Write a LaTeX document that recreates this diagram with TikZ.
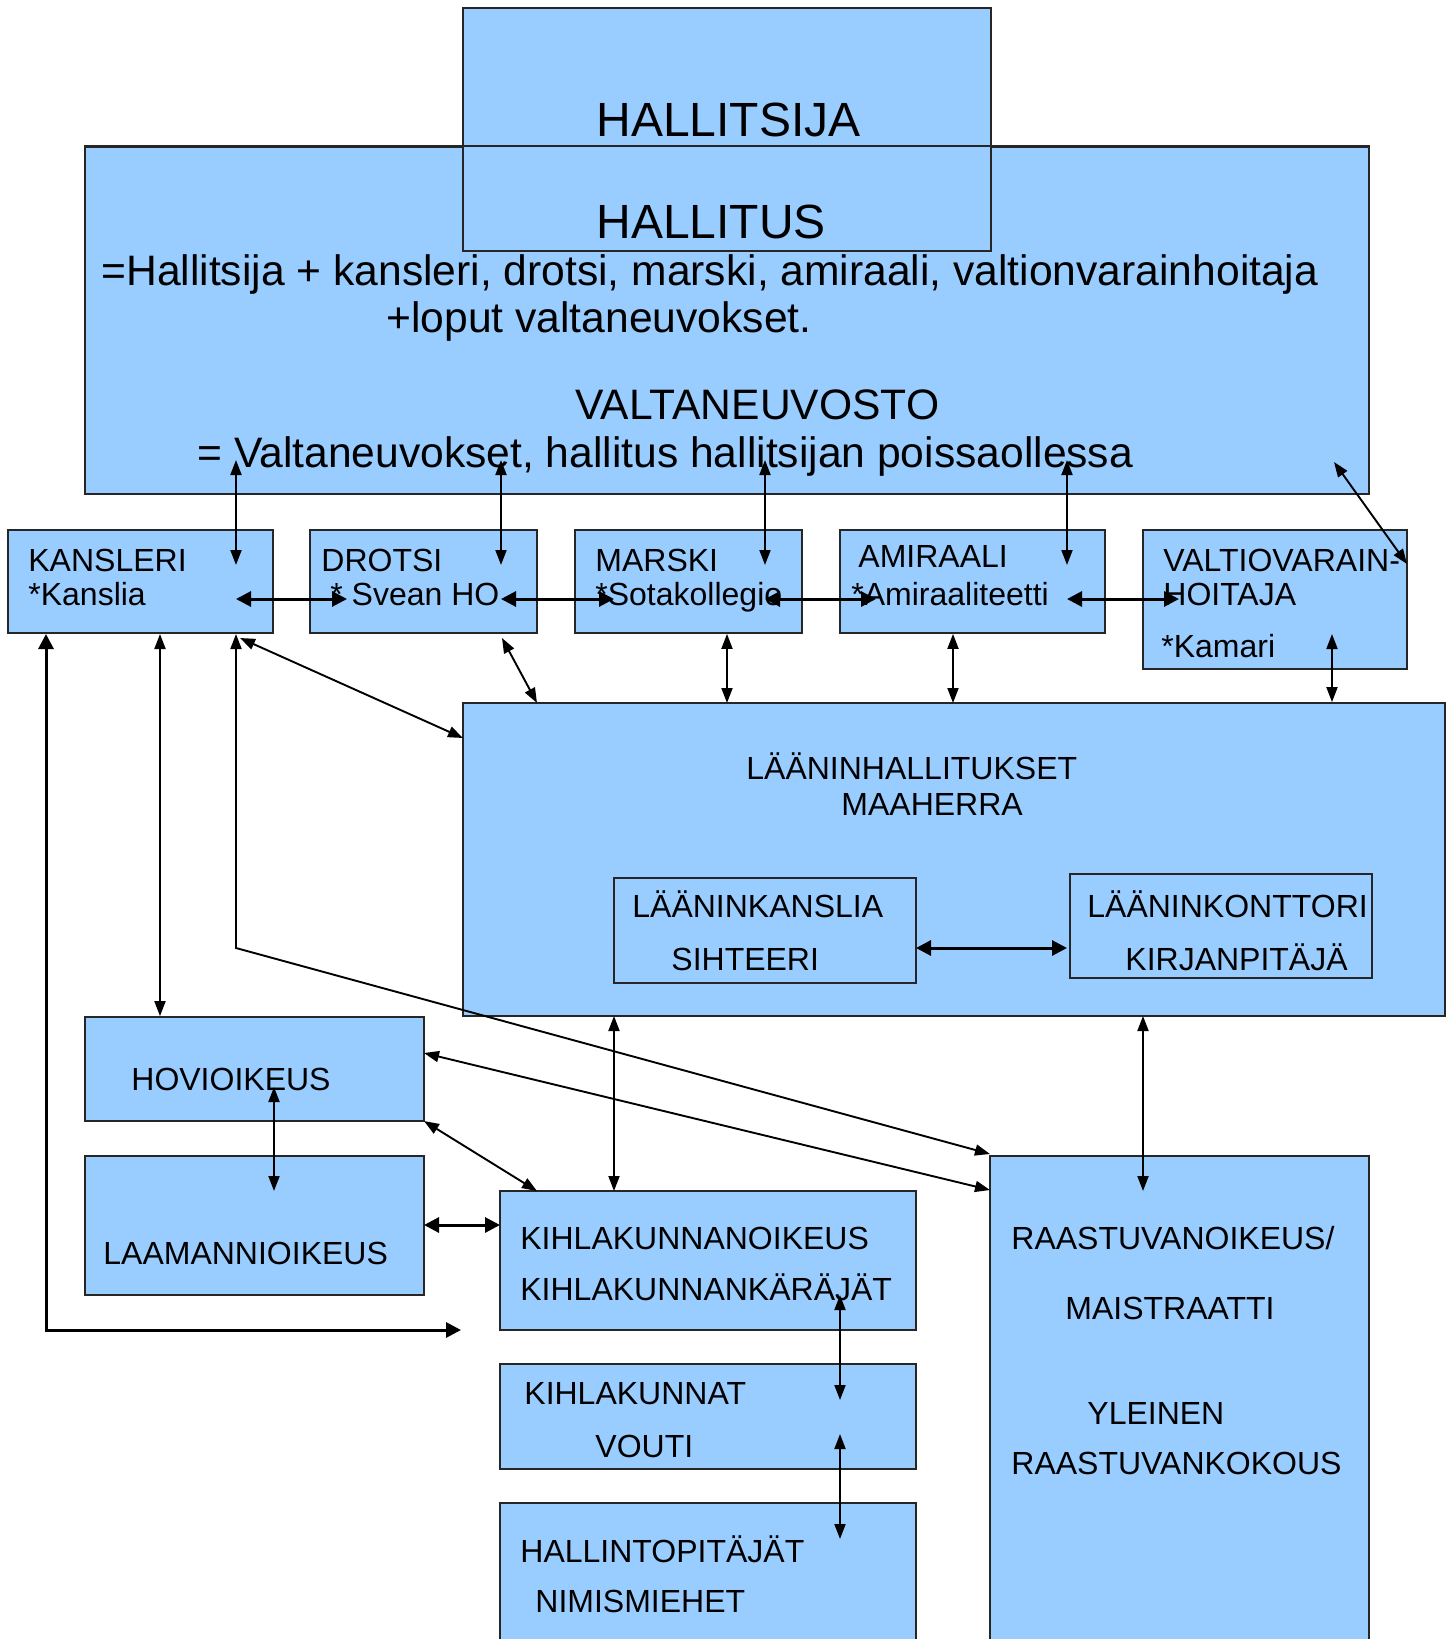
\documentclass[tikz,border=0pt]{standalone}
\usepackage{fontspec}
\setmainfont{Liberation Sans}
\usetikzlibrary{arrows.meta,fit}
\definecolor{boxblue}{HTML}{99CCFF}
\tikzset{
  box/.style={draw=black!85,fill=boxblue,line width=0.9pt,inner sep=0pt},
  lbl/.style={anchor=base west,inner sep=0pt,font=\fontsize{16}{19}\selectfont},
  mid/.style={anchor=base west,inner sep=0pt,font=\fontsize{21.3}{25}\selectfont},
  big/.style={anchor=base west,inner sep=0pt,font=\fontsize{24}{28}\selectfont},
  link/.style={{Triangle[length=7.5pt,width=5.5pt]}-{Triangle[length=7.5pt,width=5.5pt]},line width=0.95pt},
  blink/.style={{Triangle[length=7.5pt,width=7.5pt]}-{Triangle[length=7.5pt,width=7.5pt]},line width=1.5pt},
}
\begin{document}
\begin{tikzpicture}[x=0.5pt,y=-0.5pt]
\useasboundingbox (0,0) rectangle (1454,1639);
\clip (0,0) rectangle (1454,1639);
%
\node[box,fit={(85,147)(1369,494)}] (hallitus) {};
\node[box,fit={(463,8)(991,251)}] (hallitsija) {};
\draw[black!85,line width=0.9pt] (hallitus.north west) -- (hallitus.north east);
\node[big] (t-hallitsija) at (596,136) {HALLITSIJA};
\node[big] (t-hallitus) at (596,238) {HALLITUS};
\node[mid] (t-jasenet) at (101,285) {=Hallitsija + kansleri, drotsi, marski, amiraali, valtionvarainhoitaja};
\node[mid] (t-loput) at (386,332) {+loput valtaneuvokset.};
\node[mid] (t-valtaneuvosto) at (575,419) {VALTANEUVOSTO};
\node[mid] (t-poissa) at (197,467) {= Valtaneuvokset, hallitus hallitsijan poissaollessa};
%
\node[box,fit={(8,530)(273,633)}] (kansleri) {};
\node[box,fit={(310,530)(537,633)}] (drotsi) {};
\node[box,fit={(575,530)(802,633)}] (marski) {};
\node[box,fit={(840,530)(1105,633)}] (amiraali) {};
\node[box,fit={(1143,530)(1407,669)}] (valtio) {};
\node[lbl] (t-kansleri) at (28,571) {KANSLERI};
\node[lbl] (t-kanslia) at (28,605) {*Kanslia};
\node[lbl] (t-drotsi) at (321,571) {DROTSI};
\node[lbl] (t-svea) at (330,605) {* Svean HO};
\node[lbl] (t-marski) at (595,571) {MARSKI};
\node[lbl] (t-sota) at (595,605) {*Sotakollegio};
\node[lbl] (t-amiraali) at (858,567) {AMIRAALI};
\node[lbl] (t-amiraaliteetti) at (851,605) {*Amiraaliteetti};
\node[lbl] (t-valtio) at (1163,571) {VALTIOVARAIN-};
\node[lbl] (t-hoitaja) at (1163,605) {HOITAJA};
\node[lbl] (t-kamari) at (1161,657) {*Kamari};
%
\node[box,fit={(463,703)(1445,1016)}] (laanin) {};
\node[box,fit={(614,878)(916,983)}] (laaninkanslia) {};
\node[box,fit={(1070,874)(1372,978)}] (konttori) {};
\node[lbl] (t-laanin) at (746,779) {LÄÄNINHALLITUKSET};
\node[lbl] (t-maaherra) at (841,815) {MAAHERRA};
\node[lbl] (t-laaninkanslia) at (632,917) {LÄÄNINKANSLIA};
\node[lbl] (t-sihteeri) at (671,970) {SIHTEERI};
\node[lbl] (t-konttori) at (1087,917) {LÄÄNINKONTTORI};
\node[lbl] (t-kirjanpitaja) at (1125,970) {KIRJANPITÄJÄ};
%
\node[box,fit={(85,1017)(424,1121)}] (hovi) {};
\node[box,fit={(85,1156)(424,1295)}] (laamanni) {};
\node[box,fit={(500,1191)(916,1330)}] (kihlaoikeus) {};
\node[box,fit={(500,1364)(916,1469)}] (kihlakunnat) {};
\node[box,fit={(500,1503)(916,1660)}] (hallinto) {};
\node[box,fit={(990,1156)(1369,1660)}] (raastuva) {};
\node[lbl] (t-hovi) at (131,1090) {HOVIOIKEUS};
\node[lbl] (t-laamanni) at (103,1264) {LAAMANNIOIKEUS};
\node[lbl] (t-kihlaoikeus) at (520,1249) {KIHLAKUNNANOIKEUS};
\node[lbl] (t-karajat) at (520,1300) {KIHLAKUNNANKÄRÄJÄT};
\node[lbl] (t-kihlakunnat) at (524,1404) {KIHLAKUNNAT};
\node[lbl] (t-vouti) at (595,1457) {VOUTI};
\node[lbl] (t-hallinto) at (520,1562) {HALLINTOPITÄJÄT};
\node[lbl] (t-nimismiehet) at (535,1612) {NIMISMIEHET};
\node[lbl] (t-raastuva) at (1011,1249) {RAASTUVANOIKEUS/};
\node[lbl] (t-maistraatti) at (1065,1319) {MAISTRAATTI};
\node[lbl] (t-yleinen) at (1087,1424) {YLEINEN};
\node[lbl] (t-kokous) at (1011,1474) {RAASTUVANKOKOUS};
%
\coordinate (h1) at (236,460); \coordinate (k1) at (236,565);
\coordinate (h2) at (501,460); \coordinate (d1) at (501,565);
\coordinate (h3) at (765,460); \coordinate (m1) at (765,565);
\coordinate (h4) at (1067,460); \coordinate (a1) at (1067,565);
\coordinate (h5) at (1334,462); \coordinate (v1) at (1407,564);
\draw[link] (h1) -- (k1);
\draw[link] (h2) -- (d1);
\draw[link] (h3) -- (m1);
\draw[link] (h4) -- (a1);
\draw[link] (h5) -- (v1);
%
\coordinate (k2) at (236,599); \coordinate (d2) at (347,599);
\coordinate (d3) at (501,599); \coordinate (m2) at (614,599);
\coordinate (m3) at (765,599); \coordinate (a2) at (876,599);
\coordinate (a3) at (1067,599); \coordinate (v2) at (1179,599);
\draw[blink] (k2) -- (d2);
\draw[blink] (d3) -- (m2);
\draw[blink] (m3) -- (a2);
\draw[blink] (a3) -- (v2);
%
\coordinate (k3) at (46,634); \coordinate (kk) at (461,1330);
\coordinate (k4) at (160,634);
\coordinate (k5) at (236,634); \coordinate (r1) at (990,1154);
\coordinate (k6) at (240,638); \coordinate (l1) at (463,738);
\draw[blink] (k3) -- (46,1330) -- (kk);
\draw[link] (k4) -- (k4 |- hovi.north);
\draw[link] (k5) -- (236,948) -- (r1);
\draw[link] (k6) -- (l1);
%
\coordinate (d4) at (502,638); \coordinate (l2) at (537,703);
\coordinate (v3) at (1332,634);
\draw[link] (d4) -- (l2);
\draw[link] (marski.south -| 727,0) -- (727,703);
\draw[link] (amiraali.south -| 953,0) -- (953,703);
\draw[link] (v3) -- (v3 |- laanin.north);
%
\coordinate (s1) at (916,948); \coordinate (s2) at (1067,948);
\draw[blink] (s1) -- (s2);
\draw[link] (614,1016) -- (614,1191);
\coordinate (r2) at (1143,1191);
\draw[link] (1143,1016) -- (r2);
%
\coordinate (ho1) at (424,1053); \coordinate (r3) at (990,1190);
\coordinate (ho2) at (274,1087); \coordinate (la1) at (274,1191);
\coordinate (ho3) at (424,1121); \coordinate (ko1) at (537,1191);
\coordinate (la2) at (424,1225); \coordinate (ko2) at (500,1225);
\draw[link] (ho1) -- (r3);
\draw[link] (ho2) -- (la1);
\draw[link] (ho3) -- (ko1);
\draw[blink] (la2) -- (ko2);
%
\coordinate (ko3) at (840,1295); \coordinate (ki1) at (840,1400);
\coordinate (ki2) at (840,1434); \coordinate (ha1) at (840,1539);
\draw[link] (ko3) -- (ki1);
\draw[link] (ki2) -- (ha1);
\end{tikzpicture}
\end{document}
